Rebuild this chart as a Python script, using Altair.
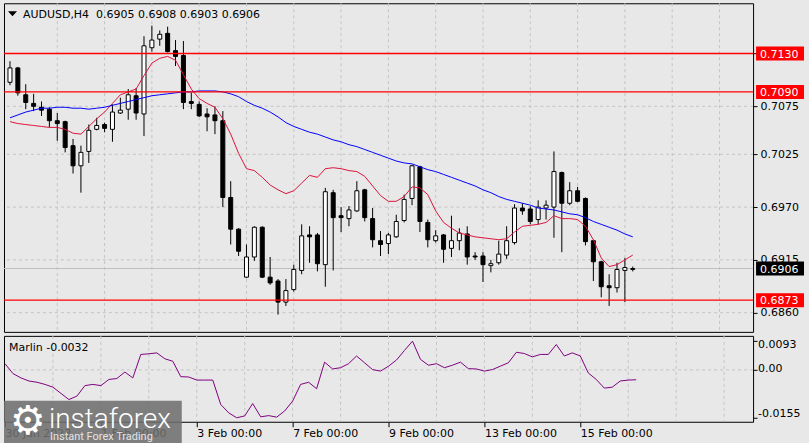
import altair as alt
import pandas as pd

FONT = "DejaVu Sans"
BG = "#e8e8e8"
GRID = "#c4c4c4"

# ---- candle data (H4, 30 Jan 2023 00:00 .. 16 Feb 04:00) ----
opens = [0.7100, 0.7115, 0.7087, 0.7078, 0.7074, 0.7072, 0.7060, 0.7059, 0.7034, 0.7013,
         0.7028, 0.7051, 0.7056, 0.7051, 0.7068, 0.7072, 0.7086, 0.7067, 0.7136, 0.7145,
         0.7151, 0.7133, 0.7128, 0.7080, 0.7077, 0.7067, 0.7066, 0.7060, 0.6980, 0.6947,
         0.6897, 0.6918, 0.6949, 0.6897, 0.6893, 0.6871, 0.6884, 0.6904, 0.6941, 0.6941,
         0.6910, 0.6985, 0.6961, 0.6958, 0.6966, 0.6988, 0.6958, 0.6935, 0.6932, 0.6939,
         0.6956, 0.6979, 0.7012, 0.6954, 0.6935, 0.6941, 0.6927, 0.6935, 0.6942, 0.6919,
         0.6919, 0.6909, 0.6912, 0.6920, 0.6933, 0.6969, 0.6968, 0.6957, 0.6969, 0.6970,
         0.7006, 0.6974, 0.6987, 0.6979, 0.6935, 0.6913, 0.6888, 0.6886, 0.6904, 0.6905]
highs = [0.7122, 0.7116, 0.7098, 0.7088, 0.7080, 0.7074, 0.7068, 0.7060, 0.7041, 0.7034,
         0.7056, 0.7063, 0.7058, 0.7077, 0.7084, 0.7093, 0.7094, 0.7148, 0.7159, 0.7154,
         0.7158, 0.7144, 0.7143, 0.7089, 0.7080, 0.7073, 0.7075, 0.7070, 0.6997, 0.6948,
         0.6931, 0.6950, 0.6950, 0.6918, 0.6895, 0.6895, 0.6910, 0.6952, 0.6950, 0.6943,
         0.6990, 0.6988, 0.6970, 0.6971, 0.6997, 0.6989, 0.6969, 0.6945, 0.6943, 0.6962,
         0.6983, 0.7014, 0.7013, 0.6957, 0.6946, 0.6942, 0.6961, 0.6948, 0.6950, 0.6923,
         0.6923, 0.6915, 0.6935, 0.6950, 0.6973, 0.6974, 0.6971, 0.6977, 0.6977, 0.7028,
         0.7007, 0.6996, 0.6991, 0.6980, 0.6936, 0.6914, 0.6900, 0.6912, 0.6917, 0.6908]
lows = [0.7097, 0.7086, 0.7072, 0.7070, 0.7065, 0.7053, 0.7039, 0.7027, 0.7005, 0.6985,
        0.7016, 0.7050, 0.7048, 0.7038, 0.7067, 0.7061, 0.7061, 0.7044, 0.7132, 0.7138,
        0.7131, 0.7117, 0.7072, 0.7072, 0.7064, 0.7049, 0.7046, 0.6970, 0.6931, 0.6919,
        0.6896, 0.6914, 0.6896, 0.6889, 0.6858, 0.6867, 0.6882, 0.6900, 0.6912, 0.6903,
        0.6887, 0.6904, 0.6944, 0.6950, 0.6965, 0.6955, 0.6928, 0.6919, 0.6921, 0.6938,
        0.6954, 0.6972, 0.6944, 0.6928, 0.6933, 0.6912, 0.6918, 0.6925, 0.6910, 0.6915,
        0.6892, 0.6902, 0.6910, 0.6916, 0.6931, 0.6962, 0.6952, 0.6952, 0.6957, 0.6938,
        0.6923, 0.6972, 0.6975, 0.6930, 0.6893, 0.6876, 0.6867, 0.6881, 0.6871, 0.6903]
closes = [0.7115, 0.7089, 0.7079, 0.7075, 0.7071, 0.7060, 0.7057, 0.7032, 0.7013, 0.7027,
          0.7050, 0.7055, 0.7052, 0.7069, 0.7071, 0.7087, 0.7068, 0.7138, 0.7144, 0.7150,
          0.7132, 0.7127, 0.7079, 0.7078, 0.7065, 0.7064, 0.7060, 0.6980, 0.6947, 0.6924,
          0.6918, 0.6949, 0.6897, 0.6891, 0.6871, 0.6883, 0.6905, 0.6940, 0.6939, 0.6911,
          0.6986, 0.6959, 0.6959, 0.6967, 0.6987, 0.6959, 0.6936, 0.6931, 0.6941, 0.6955,
          0.6978, 0.7013, 0.6955, 0.6936, 0.6940, 0.6926, 0.6935, 0.6943, 0.6918, 0.6918,
          0.6910, 0.6911, 0.6921, 0.6935, 0.6969, 0.6966, 0.6955, 0.6970, 0.6972, 0.7007,
          0.6974, 0.6987, 0.6976, 0.6934, 0.6913, 0.6887, 0.6886, 0.6905, 0.6907, 0.6906]

# moving averages
ma_fast = [0.7059, 0.7057, 0.7056, 0.7055, 0.7054, 0.7053, 0.7053, 0.7051, 0.7047, 0.7046,
           0.7054, 0.7062, 0.7069, 0.7078, 0.7087, 0.7090, 0.7093, 0.7107, 0.7120, 0.7125,
           0.7127, 0.7123, 0.7108, 0.7093, 0.7083, 0.7078, 0.7074, 0.7062, 0.7046, 0.7026,
           0.7010, 0.7008, 0.7001, 0.6993, 0.6988, 0.6984, 0.6987, 0.6995, 0.7003, 0.7001,
           0.7010, 0.7011, 0.7010, 0.7008, 0.7007, 0.7002, 0.6992, 0.6982, 0.6976, 0.6976,
           0.6981, 0.6991, 0.6990, 0.6983, 0.6966, 0.6954, 0.6948, 0.6943, 0.6941, 0.6939,
           0.6938, 0.6937, 0.6936, 0.6937, 0.6944, 0.6950, 0.6951, 0.6952, 0.6954, 0.6961,
           0.6958, 0.6958, 0.6957, 0.6950, 0.6936, 0.6917, 0.6908, 0.6910, 0.6915, 0.6920]
ma_slow = [0.7063, 0.7066, 0.7069, 0.7071, 0.7073, 0.7073, 0.7074, 0.7074, 0.7073, 0.7073,
           0.7072, 0.7073, 0.7074, 0.7076, 0.7078, 0.7080, 0.7082, 0.7084, 0.7086, 0.7087,
           0.7088, 0.7089, 0.7090, 0.7090, 0.7091, 0.7091, 0.7091, 0.7090, 0.7088, 0.7085,
           0.7080, 0.7076, 0.7073, 0.7069, 0.7064, 0.7058, 0.7054, 0.7051, 0.7048, 0.7046,
           0.7043, 0.7040, 0.7038, 0.7035, 0.7033, 0.7030, 0.7027, 0.7024, 0.7021, 0.7018,
           0.7016, 0.7015, 0.7012, 0.7009, 0.7007, 0.7004, 0.7001, 0.6998, 0.6995, 0.6992,
           0.6988, 0.6985, 0.6981, 0.6978, 0.6976, 0.6974, 0.6972, 0.6969, 0.6968, 0.6967,
           0.6965, 0.6963, 0.6962, 0.6959, 0.6955, 0.6952, 0.6949, 0.6946, 0.6942, 0.6939]

# Marlin oscillator
marlin = [0.0020, -0.0012, -0.0026, -0.0036, -0.0040, -0.0047, -0.0056, -0.0076, -0.0096, -0.0085,
          -0.0051, -0.0047, -0.0051, -0.0031, -0.0028, -0.0007, -0.0026, 0.0050, 0.0052, 0.0055,
          0.0036, 0.0028, -0.0022, -0.0023, -0.0033, -0.0033, -0.0033, -0.0112, -0.0139, -0.0155,
          -0.0149, -0.0109, -0.0152, -0.0148, -0.0153, -0.0133, -0.0101, -0.0047, -0.0040, -0.0061,
          0.0025, 0.0003, 0.0007, 0.0020, 0.0045, 0.0023, 0.0001, -0.0004, 0.0012, 0.0032,
          0.0063, 0.0093, 0.0034, 0.0015, 0.0020, 0.0007, 0.0015, 0.0025, 0.0004, 0.0003,
          -0.0004, 0.0001, 0.0012, 0.0023, 0.0057, 0.0053, 0.0042, 0.0050, 0.0050, 0.0082,
          0.0045, 0.0055, 0.0045, -0.0010, -0.0031, -0.0059, -0.0056, -0.0036, -0.0033, -0.0032]

# axes / annotations
price_ticks = [0.6860, 0.6915, 0.6970, 0.7025, 0.7075, 0.7130]
day_grid = [6, 12, 18, 24, 30, 36, 42, 48, 54, 60, 66, 72, 78, 84, 90]
date_ticks = [0, 12, 24, 36, 48, 60, 72]
date_labels = ["30 Jan 2023", "1 Feb 00:00", "3 Feb 00:00", "7 Feb 00:00",
               "9 Feb 00:00", "13 Feb 00:00", "15 Feb 00:00"]
level_prices = [0.7130, 0.7090, 0.6873]
level_labels = ["0.7130", "0.7090", "0.6873"]
bid_price = [0.6906]
bid_label = ["0.6906"]
title_text = "AUDUSD,H4 \u00a00.6905 0.6908 0.6903 0.6906"
marlin_title = "Marlin -0.0032"
marlin_ticks = [0.0093, 0.0, -0.0155]
marlin_tick_labels = ["0.0093", "0.00", "-0.0155"]

n = len(opens)
candles = pd.DataFrame({
    "k": list(range(n)), "o": opens, "h": highs, "l": lows, "c": closes,
    "fast": ma_fast, "slow": ma_slow, "marlin": marlin,
})
candles["dir"] = ["up" if c >= o else "down" for o, c in zip(opens, closes)]

W, H1, H2 = 750, 329, 86
xs = alt.Scale(domain=[-0.125, 93.625], nice=False, zero=False)
ys = alt.Scale(domain=[0.683999, 0.718234], nice=False, zero=False)
ms = alt.Scale(domain=[-0.01679, 0.01101], nice=False, zero=False)

yax = alt.Axis(orient="right", values=price_ticks, format=".4f", grid=False, domain=False,
               tickSize=4, tickColor="black", labelPadding=3, labelFont=FONT, labelFontSize=11,
               labelColor="black", title=None, labelFlush=False, labelOverlap=False)
X = lambda f="k": alt.X(f"{f}:Q", scale=xs, axis=None)
Y = lambda f: alt.Y(f"{f}:Q", scale=ys, axis=yax)

vgrid = alt.Chart(pd.DataFrame({"k": day_grid})).mark_rule(
    color=GRID, strokeDash=[3, 3], strokeWidth=1).encode(x=X())
hgrid = alt.Chart(pd.DataFrame({"p": price_ticks})).mark_rule(
    color=GRID, strokeDash=[3, 3], strokeWidth=1).encode(y=Y("p"))
bidline = alt.Chart(pd.DataFrame({"p": bid_price})).mark_rule(
    color="#c0c0c0", strokeWidth=1).encode(y=Y("p"))
wicks = alt.Chart(candles).mark_rule(color="black", strokeWidth=1, clip=True).encode(
    x=X(), y=Y("l"), y2="h:Q")
bodies = alt.Chart(candles).mark_bar(size=4, stroke="black", strokeWidth=1, clip=True).encode(
    x=X(), y=Y("o"), y2="c:Q",
    fill=alt.Fill("dir:N", scale=alt.Scale(domain=["up", "down"], range=["white", "black"]),
                  legend=None))
fast = alt.Chart(candles).mark_line(color="#dc143c", strokeWidth=1, clip=True).encode(
    x=X(), y=Y("fast"))
slow = alt.Chart(candles).mark_line(color="#0000ff", strokeWidth=1, clip=True).encode(
    x=X(), y=Y("slow"))
levels = alt.Chart(pd.DataFrame({"p": level_prices})).mark_rule(
    color="#ff0000", strokeWidth=1.3).encode(y=Y("p"))

boxes_df = pd.DataFrame({
    "p": level_prices + bid_price,
    "lab": level_labels + bid_label,
    "fill": ["#ff0000", "#ff0000", "#ff0000", "#000000"],
})
boxes = alt.Chart(boxes_df).mark_rect(yOffset=-7, y2Offset=7, clip=False).encode(
    x=alt.value(753), x2=alt.value(801), y=Y("p"), y2="p:Q",
    color=alt.Color("fill:N", scale=None))
box_text = alt.Chart(boxes_df).mark_text(
    align="left", baseline="middle", font=FONT, fontSize=11, color="white", dy=1,
    clip=False).encode(x=alt.value(757), y=Y("p"), text="lab:N")

title_df = pd.DataFrame({"t": [title_text]})
title = alt.Chart(title_df).mark_text(
    align="left", baseline="alphabetic", font=FONT, fontSize=11, color="black").encode(
    x=alt.value(19), y=alt.value(14.7), text="t:N")
tri = alt.Chart(title_df).mark_point(
    shape="M -1 -0.55 L 1 -0.55 L 0 0.55 Z", filled=True, size=81, color="black",
    opacity=1).encode(x=alt.value(8.5), y=alt.value(10.5))

top = alt.layer(vgrid, hgrid, bidline, wicks, bodies, fast, slow, levels, boxes, box_text,
                title, tri).properties(width=W, height=H1)

# ---- lower panel ----
label_expr = " : ".join(
    f"datum.value == {t} ? '{lab}'" for t, lab in zip(date_ticks, date_labels)) + " : ''"
xax = alt.Axis(values=date_ticks, labelExpr=label_expr, labelAlign="left", labelBaseline="top",
               tickSize=5, tickColor="black", labelPadding=1, domain=False, grid=False,
               labelFont=FONT, labelFontSize=11, labelColor="black", title=None,
               labelFlush=False, labelOverlap=False, labelBound=False)
XB = lambda f="k": alt.X(f"{f}:Q", scale=xs, axis=xax)
max_ = alt.Axis(orient="right", values=marlin_ticks, labels=False, tickSize=4,
                tickColor="black", domain=False, grid=False, title=None)
YM = lambda f: alt.Y(f"{f}:Q", scale=ms, axis=max_)

vgrid2 = alt.Chart(pd.DataFrame({"k": day_grid})).mark_rule(
    color=GRID, strokeDash=[3, 3], strokeWidth=1).encode(x=XB())
zero_df = pd.DataFrame({"v": [marlin_ticks[1]]})
hgrid2 = alt.Chart(zero_df).mark_rule(
    color=GRID, strokeDash=[3, 3], strokeWidth=1).encode(y=YM("v"))
mline = alt.Chart(candles).mark_line(color="#800080", strokeWidth=1, clip=True).encode(
    x=XB(), y=YM("marlin"))
mlabels = []
for v, lab, d in zip(marlin_ticks, marlin_tick_labels, [4, -1, -4]):
    mlabels.append(alt.Chart(pd.DataFrame({"v": [v], "lab": [lab]})).mark_text(
        align="left", baseline="middle", font=FONT, fontSize=11, color="black", dy=d,
        clip=False).encode(x=alt.value(755), y=YM("v"), text="lab:N"))
mtitle = alt.Chart(pd.DataFrame({"t": [marlin_title]})).mark_text(
    align="left", baseline="alphabetic", font=FONT, fontSize=11, color="black").encode(
    x=alt.value(5), y=alt.value(15), text="t:N")

wm_df = pd.DataFrame({"a": ["instaforex"], "b": ["Instant Forex Trading"], "g": ["\u2699"]})
wm_box = alt.Chart(wm_df).mark_rect(color="#6e6e6e", opacity=0.88, clip=False).encode(
    x=alt.value(0), x2=alt.value(178), y=alt.value(65), y2=alt.value(109))
wm_gear = alt.Chart(wm_df).mark_text(
    align="center", baseline="middle", font=FONT, fontSize=40, color="white").encode(
    x=alt.value(24), y=alt.value(86), text="g:N")
wm_text = alt.Chart(wm_df).mark_text(
    align="left", baseline="alphabetic", font="Roboto", fontSize=28, fontWeight=300,
    color="white").encode(x=alt.value(45), y=alt.value(92), text="a:N")
wm_sub = alt.Chart(wm_df).mark_text(
    align="left", baseline="alphabetic", font="Roboto", fontSize=11, color="#e4e4e4").encode(
    x=alt.value(46), y=alt.value(104), text="b:N")

bottom = alt.layer(vgrid2, hgrid2, mline, *mlabels, mtitle, wm_box, wm_gear, wm_text,
                   wm_sub).properties(width=W, height=H2)

chart = alt.vconcat(top, bottom, spacing=2).properties(
    padding={"left": 2, "top": 2, "right": 4, "bottom": 0},
    background=BG,
).configure_view(stroke="black", strokeWidth=1, fill=BG)

chart.save("out.html", embed_options={"renderer": "svg", "actions": False})
